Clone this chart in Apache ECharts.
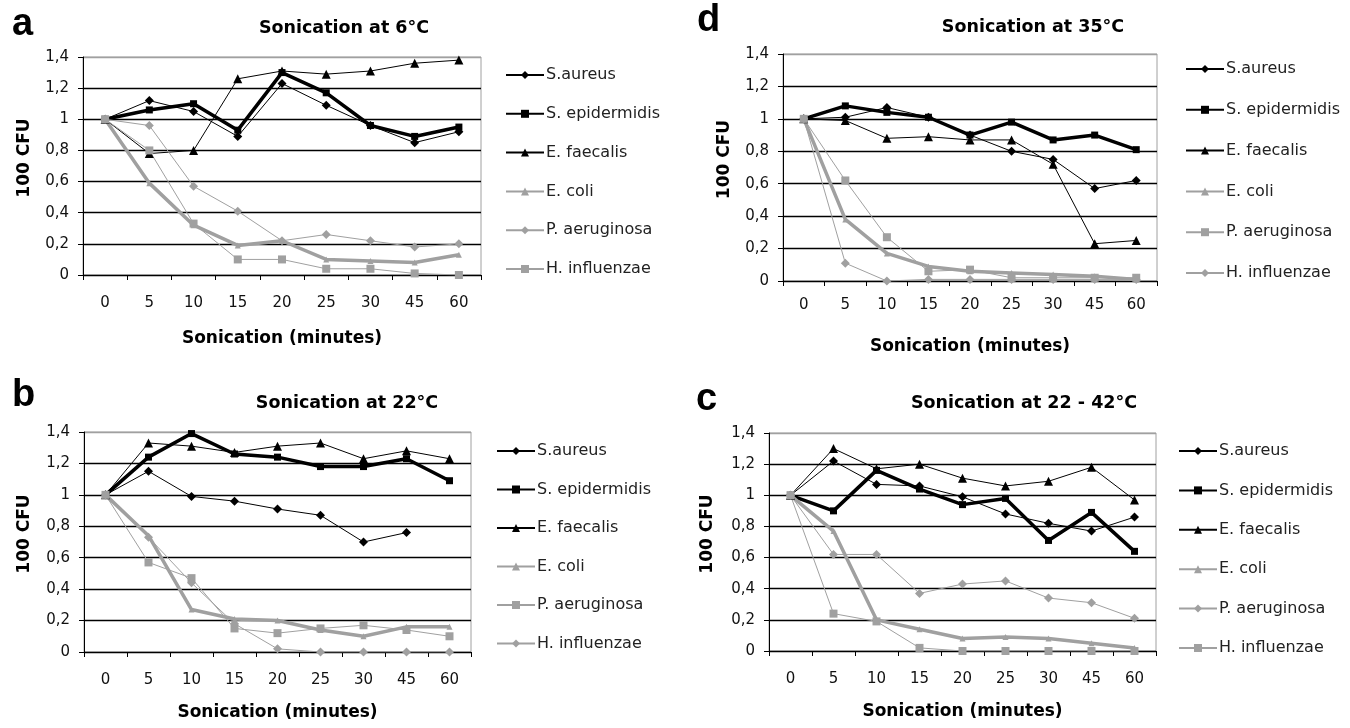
<!DOCTYPE html>
<html>
<head>
<meta charset="utf-8">
<script src="https://cdn.jsdelivr.net/npm/echarts@6/dist/echarts.min.js"></script>
<style>html,body{margin:0;padding:0;background:#fff}#c{width:1350px;height:728px}</style>
</head>
<body>
<div id="c"></div>
<script>
// ---------- data ----------
const categories = ['0', '5', '10', '15', '20', '25', '30', '45', '60'];
const seriesNames = ['S.aureus', 'S. epidermidis', 'E. faecalis', 'E. coli', 'P. aeruginosa', 'H. influenzae'];
const panelLetters = ['a', 'b', 'd', 'c'];
const panelTitles = ['Sonication at 6°C', 'Sonication at 22°C', 'Sonication at 35°C', 'Sonication at 22 - 42°C'];

// panel a (6°C)
const aAureus      = [1, 1.12, 1.05, 0.89, 1.23, 1.09, 0.96, 0.85, 0.92];
const aEpidermidis = [1, 1.06, 1.10, 0.93, 1.30, 1.17, 0.96, 0.89, 0.95];
const aFaecalis    = [1, 0.78, 0.80, 1.26, 1.31, 1.29, 1.31, 1.36, 1.38];
const aColi        = [1, 0.59, 0.32, 0.19, 0.22, 0.10, 0.09, 0.08, 0.13];
const aAeruginosa  = [1, 0.96, 0.57, 0.41, 0.22, 0.26, 0.22, 0.18, 0.20];
const aInfluenzae  = [1, 0.80, 0.33, 0.10, 0.10, 0.04, 0.04, 0.01, 0.00];

// panel b (22°C)
const bAureus      = [1, 1.15, 0.99, 0.96, 0.91, 0.87, 0.70, 0.76, null];
const bEpidermidis = [1, 1.24, 1.39, 1.26, 1.24, 1.18, 1.18, 1.23, 1.09];
const bFaecalis    = [1, 1.33, 1.31, 1.27, 1.31, 1.33, 1.23, 1.28, 1.23];
const bColi        = [1, 0.74, 0.27, 0.21, 0.20, 0.14, 0.10, 0.16, 0.16];
const bAeruginosa  = [1, 0.57, 0.47, 0.15, 0.12, 0.15, 0.17, 0.14, 0.10];
const bInfluenzae  = [1, 0.73, 0.44, 0.18, 0.02, 0.00, 0.00, 0.00, 0.00];

// panel d (35°C)
const dAureus      = [1, 1.01, 1.07, 1.01, 0.90, 0.80, 0.75, 0.57, 0.62];
const dEpidermidis = [1, 1.08, 1.04, 1.01, 0.90, 0.98, 0.87, 0.90, 0.81];
const dFaecalis    = [1, 0.99, 0.88, 0.89, 0.87, 0.87, 0.72, 0.23, 0.25];
const dColi        = [1, 0.38, 0.17, 0.09, 0.06, 0.05, 0.04, 0.03, 0.01];
const dAeruginosa  = [1, 0.62, 0.27, 0.06, 0.07, 0.02, 0.02, 0.02, 0.02];
const dInfluenzae  = [1, 0.11, 0.00, 0.01, 0.01, 0.01, 0.01, 0.01, 0.01];

// panel c (22 - 42°C)
const cAureus      = [1, 1.22, 1.07, 1.06, 0.99, 0.88, 0.82, 0.77, 0.86];
const cEpidermidis = [1, 0.90, 1.16, 1.04, 0.94, 0.98, 0.71, 0.89, 0.64];
const cFaecalis    = [1, 1.30, 1.17, 1.20, 1.11, 1.06, 1.09, 1.18, 0.97];
const cColi        = [1, 0.77, 0.20, 0.14, 0.08, 0.09, 0.08, 0.05, 0.02];
const cAeruginosa  = [1, 0.62, 0.62, 0.37, 0.43, 0.45, 0.34, 0.31, 0.21];
const cInfluenzae  = [1, 0.24, 0.19, 0.02, 0.00, 0.00, 0.00, 0.00, 0.00];

const panelData = [
  [aAureus, aEpidermidis, aFaecalis, aColi, aAeruginosa, aInfluenzae],
  [bAureus, bEpidermidis, bFaecalis, bColi, bAeruginosa, bInfluenzae],
  [dAureus, dEpidermidis, dFaecalis, dColi, dAeruginosa, dInfluenzae],
  [cAureus, cEpidermidis, cFaecalis, cColi, cAeruginosa, cInfluenzae]
];

// ---------- layout / style ----------
const GRAY = '#a0a0a0';
const grids = [
  {left: 83,  top: 57,  width: 398, height: 218},
  {left: 84,  top: 432, width: 387, height: 220},
  {left: 783, top: 54,  width: 374, height: 227},
  {left: 769, top: 433, width: 387, height: 218}
];
const layout = [
  {title: [344, 28],  letter: [12, 25],   yName: 58, xLabelMargin: 21, xNameGap: 55, legend: [500, 62, 22.8]},
  {title: [347, 403], letter: [12, 396],  yName: 59, xLabelMargin: 21, xNameGap: 52, legend: [491, 438, 22.5]},
  {title: [1033, 27], letter: [697, 21],  yName: 58, xLabelMargin: 17, xNameGap: 57, legend: [1180, 56, 24.8]},
  {title: [1024, 403], letter: [696, 400], yName: 61, xLabelMargin: 21, xNameGap: 52, legend: [1173, 438, 23.4]}
];
// marker per series per panel (P. aeruginosa / H. influenzae swap in panels b and d)
const markerSets = [
  ['diamond', 'rect', 'triangle', 'triangle', 'diamond', 'rect'],
  ['diamond', 'rect', 'triangle', 'triangle', 'rect', 'diamond'],
  ['diamond', 'rect', 'triangle', 'triangle', 'rect', 'diamond'],
  ['diamond', 'rect', 'triangle', 'triangle', 'diamond', 'rect']
];
const lineColors = ['#000', '#000', '#000', GRAY, GRAY, GRAY];
const lineWidths = [1, 3.5, 1, 3.5, 1, 1];
const symSize = {diamond: 9, rect: 8, triangle: 9};

const TICKFONT = 'DejaVu Sans';
const option = {
  backgroundColor: '#fff',
  animation: false,
  grid: [], xAxis: [], yAxis: [], legend: [], series: [], graphic: []
};

grids.forEach((g, p) => {
  const L = layout[p];
  option.grid.push(Object.assign({show: true, borderColor: GRAY, borderWidth: 1, backgroundColor: 'transparent'}, g));
  option.xAxis.push({
    type: 'category', gridIndex: p, data: categories, boundaryGap: true,
    name: 'Sonication (minutes)', nameLocation: 'middle', nameGap: L.xNameGap,
    nameTextStyle: {fontFamily: 'DejaVu Sans', fontWeight: 'bold', fontSize: 17, color: '#000'},
    axisLine: {lineStyle: {color: '#000', width: 1}},
    axisTick: {show: true, length: 5, lineStyle: {color: '#000'}},
    axisLabel: {fontFamily: TICKFONT, fontSize: 15, color: '#111', margin: L.xLabelMargin}
  });
  option.yAxis.push({
    type: 'value', gridIndex: p, min: 0, max: 1.4, interval: 0.2,
    name: '100 CFU', nameLocation: 'middle', nameGap: L.yName - 8, nameRotate: 90,
    nameTextStyle: {fontFamily: 'DejaVu Sans', fontWeight: 'bold', fontSize: 17, color: '#000', padding: [0, 0, 0, 16]},
    axisLine: {show: true, lineStyle: {color: '#000', width: 1}},
    axisTick: {show: true, length: 5, lineStyle: {color: '#000'}},
    axisLabel: {fontFamily: TICKFONT, fontSize: 15, color: '#111', margin: 14,
      formatter: v => String(Math.round(v * 10) / 10).replace('.', ',')},
    splitLine: {show: true, lineStyle: {color: ['#000', '#000', '#000', '#000', '#000', '#000', '#000', GRAY], width: 1.3}}
  });
  const names = [];
  panelData[p].forEach((vals, s) => {
    const nm = seriesNames[s] + '#' + p;
    names.push(nm);
    const mk = markerSets[p][s];
    let size = symSize[mk];
    if (s === 3) size = 6;
    if (s === 1) size = 7;
    option.series.push({
      type: 'line', name: nm, xAxisIndex: p, yAxisIndex: p, data: vals,
      symbol: mk, symbolSize: size, showSymbol: true, connectNulls: false,
      lineStyle: {color: lineColors[s], width: lineWidths[s]},
      itemStyle: {color: lineColors[s], borderWidth: 0},
      emphasis: {disabled: true}
    });
  });
  option.legend.push({
    orient: 'vertical', left: L.legend[0], top: L.legend[1],
    itemWidth: 38, itemHeight: 10, itemGap: L.legend[2],
    data: names,
    formatter: n => n.split('#')[0],
    textStyle: {fontFamily: 'DejaVu Sans', fontSize: 16, color: '#222', lineHeight: 16, padding: [0, 0, 0, -3]},
    selectedMode: false
  });
  option.graphic.push({
    type: 'text', x: L.title[0], y: L.title[1],
    style: {text: panelTitles[p], font: 'bold 17.5px "DejaVu Sans"', fill: '#000', textAlign: 'center', textVerticalAlign: 'middle'}
  });
  option.graphic.push({
    type: 'text', x: L.letter[0], y: L.letter[1],
    style: {text: panelLetters[p], font: 'bold 38px "Liberation Sans"', fill: '#000', textAlign: 'left', textVerticalAlign: 'middle'}
  });
});

const chart = echarts.init(document.getElementById('c'), null, {renderer: 'canvas'});
chart.setOption(option);
</script>
</body>
</html>
